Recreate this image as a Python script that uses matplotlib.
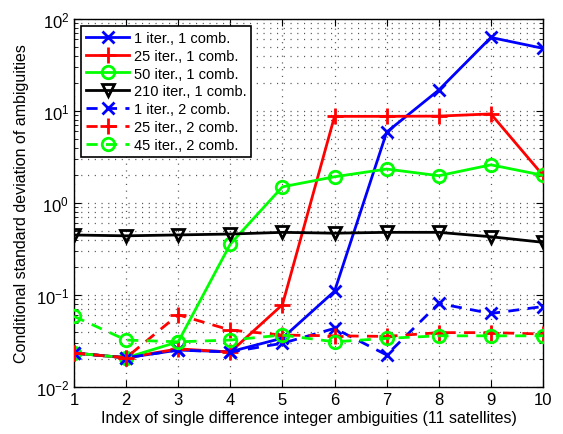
import matplotlib
matplotlib.use("Agg")
import matplotlib.pyplot as plt
from matplotlib.ticker import LogLocator, NullFormatter

plt.rcParams['font.family'] = ['Liberation Sans', 'DejaVu Sans']
plt.rcParams['mathtext.fontset'] = 'custom'
plt.rcParams['mathtext.rm'] = 'Liberation Sans'

x = [1, 2, 3, 4, 5, 6, 7, 8, 9, 10]
labels = ["1 iter., 1 comb.", "25 iter., 1 comb.", "50 iter., 1 comb.", "210 iter., 1 comb.",
          "1 iter., 2 comb.", "25 iter., 2 comb.", "45 iter., 2 comb."]
s_1it_1c = [0.0234, 0.0208, 0.0252, 0.0242, 0.034, 0.11, 5.9, 16.9, 63, 48]
s_25it_1c = [0.0234, 0.0208, 0.026, 0.024, 0.0785, 8.75, 8.75, 8.8, 9.3, 2.0]
s_50it_1c = [0.0234, 0.0208, 0.031, 0.358, 1.5, 1.93, 2.34, 1.98, 2.6, 2.0]
s_210it_1c = [0.449, 0.44, 0.45, 0.46, 0.48, 0.47, 0.48, 0.48, 0.43, 0.374]
s_1it_2c = [0.0234, 0.0208, 0.0252, 0.024, 0.0299, 0.0434, 0.0223, 0.081, 0.063, 0.075]
s_25it_2c = [0.0234, 0.0208, 0.061, 0.0416, 0.0367, 0.036, 0.0355, 0.039, 0.039, 0.0377]
s_45it_2c = [0.0586, 0.0324, 0.031, 0.0324, 0.0367, 0.031, 0.0338, 0.036, 0.036, 0.036]

fig = plt.figure(figsize=(5.63, 4.35), dpi=100)
ax = fig.add_axes([0.1314, 0.108, 0.8331, 0.846])

lw = 2.0
series = [
    (s_1it_1c, 'b', 'x', '-'),
    (s_25it_1c, 'r', '+', '-'),
    (s_50it_1c, '#00ff00', 'o', '-'),
    (s_210it_1c, 'k', 'v', '-'),
    (s_1it_2c, 'b', 'x', '--'),
    (s_25it_2c, 'r', '+', '--'),
    (s_45it_2c, '#00ff00', 'o', '--'),
]
sizes = {'x': 9, '+': 12, 'o': 9, 'v': 8}
for (vals, c, m, ls), lab in zip(series, labels):
    ax.semilogy(x, vals, color=c, marker=m, linestyle=ls, linewidth=lw,
                markersize=sizes[m], markerfacecolor='none', markeredgewidth=2, label=lab,
                dashes=(4, 3) if ls == '--' else (None, None), zorder=3)

ax.set_xlim(1, 10)
ax.set_ylim(1e-2, 1e2)
ax.set_xticks(x)
ax.yaxis.set_major_locator(LogLocator(base=10, numticks=10))
ax.yaxis.set_minor_locator(LogLocator(base=10, subs=range(2, 10), numticks=20))
ax.yaxis.set_minor_formatter(NullFormatter())
gkw = dict(color='#555555', linewidth=0.9, dashes=(0.9, 4.5))
ax.grid(True, which='major', **gkw)
ax.grid(True, which='minor', axis='y', **gkw)
ax.tick_params(which='both', direction='in', top=True, right=True, labelsize=12)
ax.tick_params(which='major', length=5)
ax.tick_params(which='minor', length=3)
for sp in ax.spines.values():
    sp.set_linewidth(1.0)

ax.set_xlabel("Index of single difference integer ambiguities (11 satellites)", fontsize=11.5, labelpad=2)
ax.set_ylabel("Conditional standard deviation of ambiguities", fontsize=11.5, labelpad=5)

leg = ax.legend(loc='upper left', fontsize=10.5, frameon=True, fancybox=False,
                edgecolor='k', borderpad=0.35, labelspacing=0.27, handlelength=3.0,
                handletextpad=0.3, borderaxespad=0.45, framealpha=1)
leg.get_frame().set_linewidth(1.2)

fig.savefig("out.png", dpi=100)
